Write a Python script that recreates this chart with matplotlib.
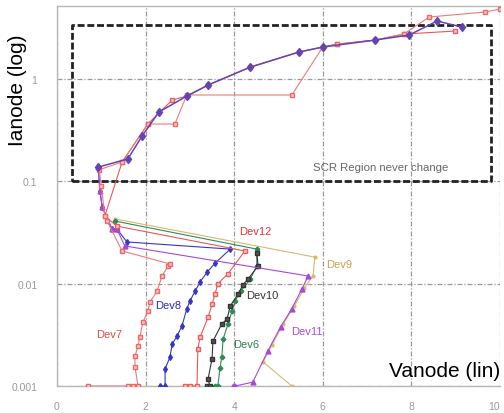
import matplotlib
matplotlib.use("Agg")
import matplotlib.pyplot as plt

plt.rcParams['font.family'] = ['Liberation Sans', 'DejaVu Sans']

# ---- data (Vanode [V], Ianode [A]) ----
scr_v = [0.93, 1.60, 1.92, 2.30, 2.93, 3.41, 4.36, 5.46, 6.00, 7.18, 7.95, 8.58, 9.14]
scr_i = [0.138, 0.166, 0.278, 0.477, 0.683, 0.875, 1.31, 1.84, 2.06, 2.41, 2.70, 3.70, 3.23]

dev7_v = [0.70, 1.60, 1.72, 1.83, 1.76, 1.76, 1.83, 1.87, 1.94, 2.05, 2.10, 2.26, 2.37, 2.51, 2.55,
          1.47, 1.13, 1.08, 1.00, 0.95, 1.47, 2.05, 2.66, 2.93, 5.30, 6.00, 6.32, 7.18, 7.83, 8.40, 9.66, 10.0]
dev7_i = [0.001, 0.001, 0.001, 0.001, 0.00153, 0.00196, 0.00246, 0.00301, 0.00422, 0.00541, 0.00662,
          0.00849, 0.0119, 0.0149, 0.0156,
          0.0209, 0.041, 0.0459, 0.09, 0.13, 0.155, 0.364, 0.364, 0.70, 0.70, 2.06, 2.20, 2.41, 2.76, 4.05, 4.53, 4.84]

dev12_v = [2.89, 3.00, 3.16, 3.18, 3.23, 3.41, 3.50, 3.57, 3.63, 3.86, 4.24,
           1.35, 1.08, 1.47, 2.05, 2.60, 2.93, 3.41, 4.36, 5.46, 6.00, 6.32, 7.18, 7.83, 8.98]
dev12_i = [0.001, 0.001, 0.001, 0.0023, 0.0030, 0.0047, 0.0063, 0.0080, 0.0100, 0.0125, 0.0209,
           0.0366, 0.0459, 0.155, 0.364, 0.625, 0.683, 0.875, 1.31, 1.84, 2.06, 2.20, 2.41, 2.76, 2.95]

dev8_v = [2.33, 2.44, 2.44, 2.55, 2.60, 2.71, 2.82, 2.93, 3.00, 3.12, 3.23, 3.39, 3.57, 3.91,
          1.58, 1.35, 1.24, 1.02, 0.97, 0.93]
dev8_i = [0.001, 0.001, 0.00147, 0.00192, 0.00257, 0.00308, 0.00386, 0.00566, 0.00678, 0.00849,
          0.0104, 0.0130, 0.0159, 0.0218,
          0.0256, 0.0343, 0.0343, 0.0562, 0.0805, 0.138]

dev10_v = [3.39, 3.45, 3.41, 3.50, 3.52, 3.72, 3.84, 3.91, 4.09, 4.20, 4.31, 4.54, 4.51]
dev10_i = [0.001, 0.001, 0.00117, 0.00184, 0.00275, 0.00404, 0.00452, 0.00605, 0.00793, 0.0098,
           0.0111, 0.0149, 0.0200]

dev6_v = [3.57, 3.63, 3.68, 3.72, 3.75, 3.86, 3.95, 4.02, 4.15, 4.36, 4.51, 4.51, 1.31]
dev6_i = [0.001, 0.001, 0.00150, 0.00192, 0.00288, 0.00404, 0.00541, 0.00678, 0.0085, 0.011,
          0.0150, 0.0218, 0.041]

dev11_v = [3.97, 4.02, 4.42, 4.76, 5.05, 5.30, 5.53, 5.67, 1.53, 1.35, 1.24, 1.02, 0.97, 0.93]
dev11_i = [0.001, 0.001, 0.00109, 0.0022, 0.0038, 0.0057, 0.0089, 0.0119,
           0.0234, 0.0343, 0.0343, 0.0562, 0.0805, 0.138]

dev9_v = [5.30, 4.65, 4.85, 5.10, 5.35, 5.58, 5.78, 5.82, 1.31]
dev9_i = [0.001, 0.00172, 0.0025, 0.0040, 0.0060, 0.0090, 0.0120, 0.0182, 0.043]

box_v = [0.34, 9.80]
box_i = [0.102, 3.4]

labels = ["Dev12", "Dev9", "Dev10", "Dev8", "Dev7", "Dev6", "Dev11"]
label_v = [4.47, 6.37, 4.63, 2.51, 1.17, 4.27, 5.64]
label_i = [0.0327, 0.0156, 0.00775, 0.0062, 0.00322, 0.00258, 0.00345]
label_c = ["#E03535", "#C8A050", "#333333", "#2828C0", "#E04848", "#2E7D4F", "#B048E0"]

xticks = [0, 2, 4, 6, 8, 10]
yticks = [0.001, 0.01, 0.1, 1]
ytick_labels = ["0.001", "0.01", "0.1", "1"]

# ---- figure ----
fig = plt.figure(figsize=(5.04, 4.14), dpi=100)
ax = fig.add_axes([57/504, 27/414, 443/504, 380/414])
ax.set_yscale('log')
ax.set_xlim(0, 10)
ax.set_ylim(0.001, 5.19)

ax.set_xticks(xticks)
ax.set_xticklabels([str(t) for t in xticks])
ax.set_yticks(yticks)
ax.set_yticklabels(ytick_labels)
ax.minorticks_off()
ax.tick_params(length=0, labelsize=7.5, labelcolor='#999999')
ax.tick_params(axis='x', pad=11)
ax.tick_params(axis='y', pad=14)
ax.get_xticklabels()[-1].set_ha('right')
ax.grid(True, color='#9a9a9a', linestyle=(0, (4, 1.5, 1, 1.5)), linewidth=0.9)
for s in ax.spines.values():
    s.set_color('#b8b8b8')
    s.set_linewidth(1.0)
ax.spines['right'].set_visible(False)

# SCR region box
ax.plot([box_v[0], box_v[1], box_v[1], box_v[0], box_v[0]],
        [box_i[0], box_i[0], box_i[1], box_i[1], box_i[0]],
        color='#222222', linestyle=(0, (2.5, 1)), linewidth=2.0, zorder=2)
ax.text(7.31, 0.138, "SCR Region never change", fontsize=8.2, color='#666666',
        ha='center', va='center', zorder=3)

lw = 0.8
ax.plot(dev9_v, dev9_i, color='#D8B870', lw=lw, marker='o', ms=2, zorder=3)
ax.plot(dev6_v, dev6_i, color='#2E8B57', lw=lw, marker='P', ms=3, zorder=3)
ax.plot(dev10_v, dev10_i, color='#333333', lw=lw, marker='s', ms=3, mfc='#555555', zorder=3)
ax.plot(dev8_v, dev8_i, color='#3535C8', lw=lw, marker='d', ms=3, zorder=4)
ax.plot(dev11_v, dev11_i, color='#A848D8', lw=lw, marker='^', ms=3.5, zorder=4)
ax.plot(dev12_v, dev12_i, color='#E85858', lw=lw, marker='s', ms=3.5,
        mfc='#F9C0C0', mec='#E86060', zorder=4)
ax.plot(dev7_v, dev7_i, color='#EE7A7A', lw=lw, marker='s', ms=3.5,
        mfc='#F9C4C4', mec='#EA6A6A', zorder=4)
ax.plot(scr_v, scr_i, color='#6444B0', lw=1.1, marker='d', ms=4.5, zorder=5)

for t, v, i, c in zip(labels, label_v, label_i, label_c):
    ax.text(v, i, t, fontsize=8, color=c, ha='center', va='center', zorder=6)

fig.text(18/504, 1 - 90/414, "Ianode (log)", rotation=90, fontsize=15,
         ha='center', va='center', color='black')
fig.text(445/504, 1 - 372/414, "Vanode (lin)", fontsize=15,
         ha='center', va='center', color='black')

fig.savefig("out.png", dpi=100)
